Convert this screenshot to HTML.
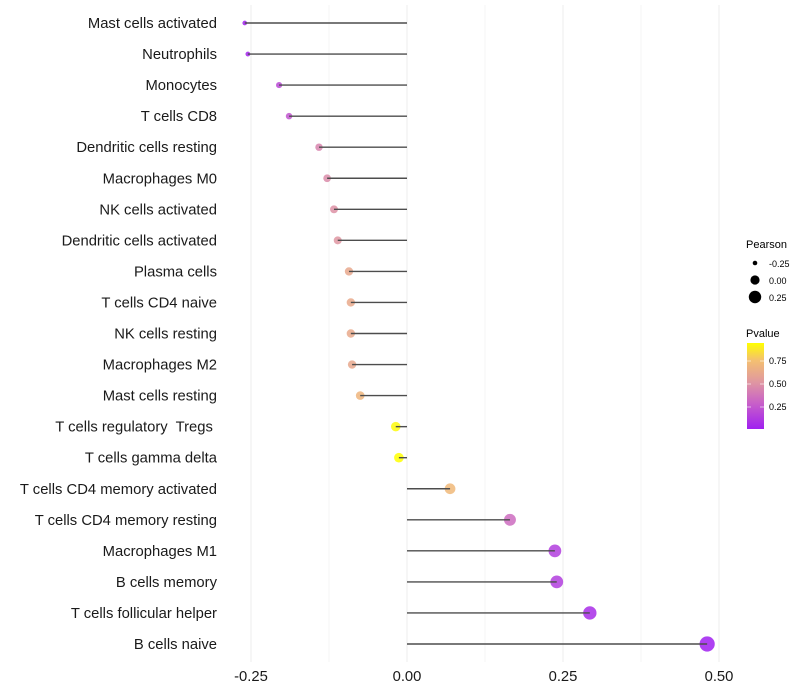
<!DOCTYPE html>
<html><head><meta charset="utf-8"><style>
body{margin:0;background:#fff;font-family:"Liberation Sans",sans-serif}
svg{display:block}
text{white-space:pre}
</style></head><body>
<svg id="chart" width="800" height="700" xmlns="http://www.w3.org/2000/svg">
<defs><linearGradient id="pg" x1="0" y1="1" x2="0" y2="0">
<stop offset="0" stop-color="#a020f0"/><stop offset="0.3" stop-color="#c860c8"/><stop offset="0.55" stop-color="#e098a0"/><stop offset="0.8" stop-color="#f4c070"/><stop offset="1" stop-color="#ffff00"/></linearGradient></defs>
<g id="grid"></g><g id="marks"></g><g id="labels"></g>
<g font-size="11" fill="#000">
<text x="746" y="248">Pearson</text>
<circle cx="755" cy="263" r="2.3"/><text x="769" y="267" font-size="9">-0.25</text>
<circle cx="755" cy="280" r="4.6"/><text x="769" y="284" font-size="9">0.00</text>
<circle cx="755" cy="297" r="6.2"/><text x="769" y="301" font-size="9">0.25</text>
<text x="746" y="337">Pvalue</text>
<rect x="747" y="343" width="17" height="86" fill="url(#pg)"/>
<g stroke="#fff" stroke-opacity="0.6"><line x1="747" x2="751" y1="361" y2="361"/><line x1="760" x2="764" y1="361" y2="361"/><line x1="747" x2="751" y1="384" y2="384"/><line x1="760" x2="764" y1="384" y2="384"/><line x1="747" x2="751" y1="407" y2="407"/><line x1="760" x2="764" y1="407" y2="407"/></g>
<text x="769" y="364" font-size="9">0.75</text>
<text x="769" y="387" font-size="9">0.50</text>
<text x="769" y="410" font-size="9">0.25</text>
</g>
</svg>
<script>
const categories=["Mast cells activated","Neutrophils","Monocytes","T cells CD8","Dendritic cells resting","Macrophages M0","NK cells activated","Dendritic cells activated","Plasma cells","T cells CD4 naive","NK cells resting","Macrophages M2","Mast cells resting","T cells regulatory  Tregs ","T cells gamma delta","T cells CD4 memory activated","T cells CD4 memory resting","Macrophages M1","B cells memory","T cells follicular helper","B cells naive"];
const pearson=[-0.26,-0.255,-0.205,-0.189,-0.141,-0.128,-0.117,-0.111,-0.093,-0.090,-0.090,-0.088,-0.075,-0.018,-0.013,0.069,0.165,0.237,0.240,0.293,0.481];
const pvalue=[0.03,0.04,0.2,0.25,0.45,0.48,0.5,0.52,0.62,0.63,0.63,0.62,0.7,0.93,0.95,0.72,0.35,0.15,0.15,0.08,0.02];
const xTicks=[-0.25,0,0.25,0.5];
const xTickLabels=["-0.25","0.00","0.25","0.50"];
const NS="http://www.w3.org/2000/svg";
const x=v=>407+v*624;
const y=i=>23+i*31.05;
function el(t,a,p){const e=document.createElementNS(NS,t);for(const k in a)e.setAttribute(k,a[k]);p.appendChild(e);return e;}
function hex(h){return [1,3,5].map(i=>parseInt(h.substr(i,2),16));}
const stops=[[0,"#a020f0"],[0.3,"#c860c8"],[0.55,"#e098a0"],[0.8,"#f4c070"],[1,"#ffff00"]];
function col(p){const t=Math.max(0,Math.min(1,(p-0.022)/(0.946-0.022)));for(let i=1;i<stops.length;i++){if(t<=stops[i][0]){const f=(t-stops[i-1][0])/(stops[i][0]-stops[i-1][0]);const a=hex(stops[i-1][1]),b=hex(stops[i][1]);return "rgb("+a.map((c,j)=>Math.round(c+(b[j]-c)*f)).join(",")+")";}}return "#ff0";}
const mn=Math.min(...pearson),mx=Math.max(...pearson);
const r=v=>Math.sqrt(5.5+(v-mn)/(mx-mn)*(58-5.5));
const grid=document.getElementById('grid'),marks=document.getElementById('marks'),labels=document.getElementById('labels');
for(let v=-0.25;v<=0.5001;v+=0.125){const g=el('line',{x1:x(v),x2:x(v),y1:5,y2:662,stroke:'#ededed','stroke-width':v*8%2===0?1:0.6},grid);

}
categories.forEach((c,i)=>{
const cc=el('circle',{cx:x(pearson[i]),cy:y(i),r:r(pearson[i]),fill:col(pvalue[i]),'fill-opacity':0.85},marks);


const s=el('line',{x1:x(0),x2:x(pearson[i]),y1:y(i),y2:y(i),stroke:'#4d4d4d','stroke-width':1.4},marks);


const t=el('text',{x:217,y:y(i)+5,'text-anchor':'end','font-size':14.8,fill:'#1a1a1a'},labels);t.textContent=c;


});
xTicks.forEach((v,i)=>{const t=el('text',{x:x(v),y:681,'text-anchor':'middle','font-size':14.8,fill:'#1a1a1a'},labels);t.textContent=xTickLabels[i];

});
</script>
</body></html>
